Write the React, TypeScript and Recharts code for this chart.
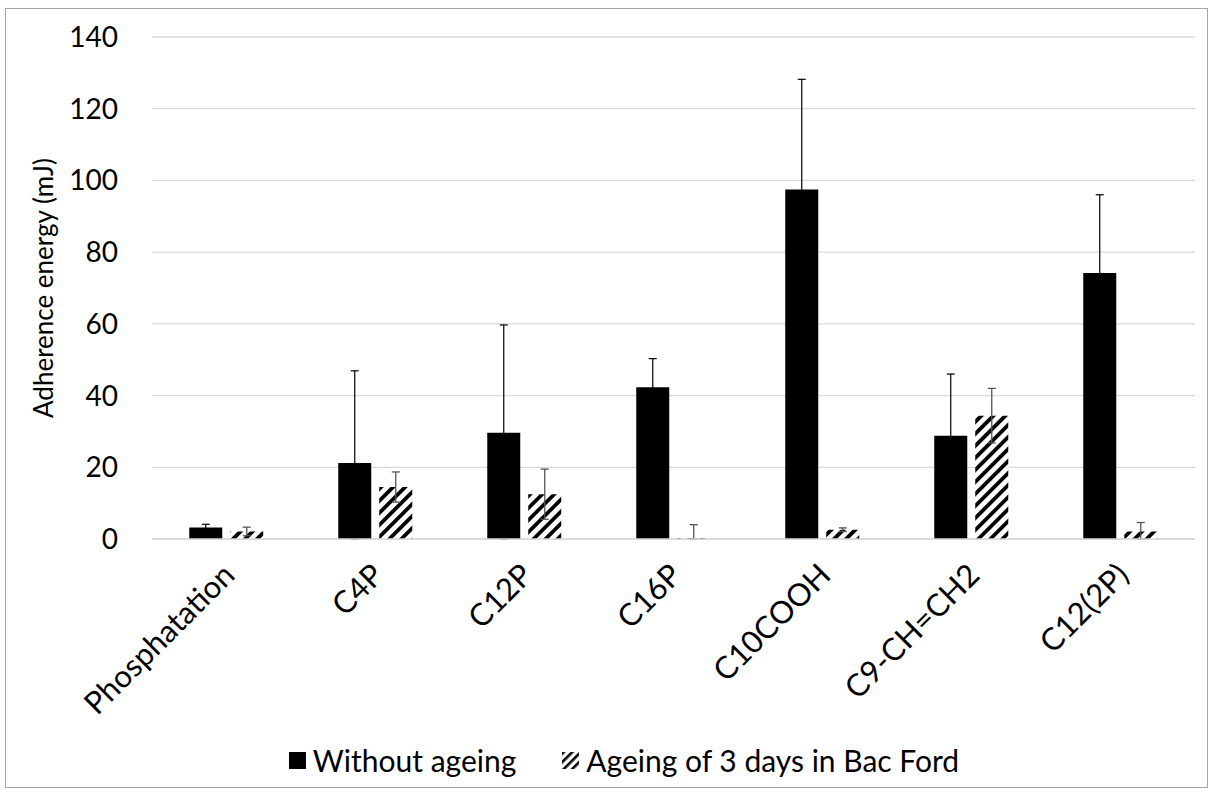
import { BarChart, Bar, XAxis, YAxis, CartesianGrid, ErrorBar, Legend } from "recharts";

const categories = ["Phosphatation", "C4P", "C12P", "C16P", "C10COOH", "C9-CH=CH2", "C12(2P)"];
const withoutAgeing = [3.2, 21.2, 29.6, 42.3, 97.5, 28.8, 74.2];
const withoutAgeingErr = [0.9, 25.7, 30.1, 8.0, 30.7, 17.2, 21.8];
const ageing = [2.1, 14.5, 12.5, 0.3, 2.6, 34.4, 2.1];
const ageingErr = [1.2, 4.2, 7.0, 3.7, 0.5, 7.6, 2.5];
const yTicks = [0, 20, 40, 60, 80, 100, 120, 140];

const FONT = "Lato, 'Open Sans', sans-serif";

// error bars are clipped at zero like the original
const data = categories.map((name, i) => ({
  name,
  without: withoutAgeing[i],
  withoutErr: [Math.min(withoutAgeingErr[i], withoutAgeing[i]), withoutAgeingErr[i]],
  ageing: ageing[i],
  ageingErr: [Math.min(ageingErr[i], ageing[i]), ageingErr[i]],
}));

function CategoryTick({ x, y, payload }: any) {
  return (
    <g transform={`translate(${x + 10},${y + 36})`}>
      <text textAnchor="end" transform="rotate(-45)" fontSize={31} fontFamily={FONT} fill="#000">
        {payload.value}
      </text>
    </g>
  );
}

function HatchIcon() {
  return (
    <svg width={17} height={17}>
      <defs>
        <pattern id="hatchLegend" patternUnits="userSpaceOnUse" width="6" height="6" patternTransform="rotate(45)">
          <rect width="6" height="6" fill="#fff" />
          <rect width="2.6" height="6" fill="#000" />
        </pattern>
      </defs>
      <rect width={17} height={17} fill="url(#hatchLegend)" />
    </svg>
  );
}

function LegendBox() {
  return (
    <div
      style={{
        display: "flex",
        justifyContent: "center",
        alignItems: "center",
        gap: 46,
        fontFamily: FONT,
        fontSize: 30,
        color: "#000",
        paddingLeft: 53,
      }}
    >
      <div style={{ display: "flex", alignItems: "center", gap: 7 }}>
        <svg width={17} height={17}>
          <rect width={17} height={17} fill="#000" />
        </svg>
        <span>Without ageing</span>
      </div>
      <div style={{ display: "flex", alignItems: "center", gap: 7 }}>
        <HatchIcon />
        <span>Ageing of 3 days in Bac Ford</span>
      </div>
    </div>
  );
}

export default function App() {
  return (
    <div style={{ position: "fixed", left: 0, top: 0, width: 1211, height: 792, background: "#fff" }}>
      <div
        style={{
          position: "absolute",
          left: 5,
          top: 8,
          width: 1201,
          height: 778,
          border: "1px solid #a6a6a6",
        }}
      />
      <div style={{ position: "absolute", left: 0, top: 0 }}>
        <BarChart
          width={1211}
          height={792}
          data={data}
          margin={{ top: 37, right: 16, left: 0, bottom: 5 }}
          barCategoryGap="25%"
          barGap={8}
        >
          <defs>
            <pattern id="hatch" patternUnits="userSpaceOnUse" width="8.5" height="8.5" patternTransform="rotate(45)">
              <rect width="8.5" height="8.5" fill="#fff" />
              <rect width="3.8" height="8.5" fill="#000" />
            </pattern>
          </defs>
          <CartesianGrid vertical={false} stroke="#d9d9d9" strokeWidth={1.3} />
          <XAxis
            dataKey="name"
            interval={0}
            height={203}
            tickLine={false}
            tickSize={0}
            axisLine={{ stroke: "#d9d9d9", strokeWidth: 1.3 }}
            tick={<CategoryTick />}
          />
          <YAxis
            domain={[0, 140]}
            ticks={yTicks}
            width={152}
            axisLine={false}
            tickLine={false}
            tickSize={0}
            tickMargin={34}
            tick={{ fontSize: 28, fontFamily: FONT, fill: "#000" }}
            label={{
              value: "Adherence energy (mJ)",
              angle: -90,
              position: "insideLeft",
              offset: 44,
              style: { fontSize: 26, fontFamily: FONT, fill: "#000", textAnchor: "middle" },
            }}
          />
          <Legend verticalAlign="bottom" height={45} content={<LegendBox />} />
          <Bar dataKey="without" name="Without ageing" fill="#000" isAnimationActive={false}>
            <ErrorBar dataKey="withoutErr" direction="y" width={4} stroke="#000" strokeWidth={1.2} />
          </Bar>
          <Bar dataKey="ageing" name="Ageing of 3 days in Bac Ford" fill="url(#hatch)" isAnimationActive={false}>
            <ErrorBar dataKey="ageingErr" direction="y" width={4} stroke="#555" strokeWidth={1.3} />
          </Bar>
        </BarChart>
      </div>
    </div>
  );
}
